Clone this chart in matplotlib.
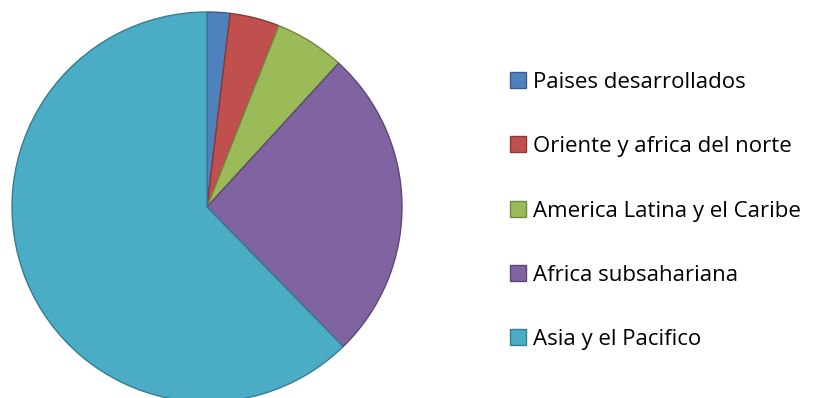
import matplotlib.pyplot as plt
from matplotlib.patches import Patch

labels = ['Paises desarrollados', 'Oriente y africa del norte',
          'America Latina y el Caribe', 'Africa subsahariana',
          'Asia y el Pacifico']
values = [1.9, 4.1, 5.8, 25.9, 62.3]
colors = ['#4F81BD', '#C0504D', '#9BBB59', '#8064A2', '#4BACC6']
edges = ['#385D8A', '#8C3836', '#71893F', '#5C4776', '#357D91']

fig = plt.figure(figsize=(8.15, 3.98), dpi=100)
ax = fig.add_axes([12 / 815, -4 / 398, 390 / 815, 390 / 398])

wedges, _ = ax.pie(values, colors=colors, startangle=90, counterclock=False,
                   radius=1.0)
for w, ec in zip(wedges, edges):
    w.set_edgecolor(ec)
    w.set_linewidth(1.0)
ax.set_xlim(-1.0, 1.0)
ax.set_ylim(-1.0, 1.0)
ax.set_aspect('equal')
ax.axis('off')

handles = [Patch(facecolor=c, edgecolor=e, linewidth=1.0)
           for c, e in zip(colors, edges)]
fig.legend(handles, labels, loc='center left',
           bbox_to_anchor=(490 / 815, 1 - 211 / 398),
           frameon=False, labelspacing=1.95,
           handlelength=0.72, handleheight=0.72, handletextpad=0.3,
           prop={'family': 'Open Sans', 'size': 16})

fig.savefig('out.png', dpi=100)
